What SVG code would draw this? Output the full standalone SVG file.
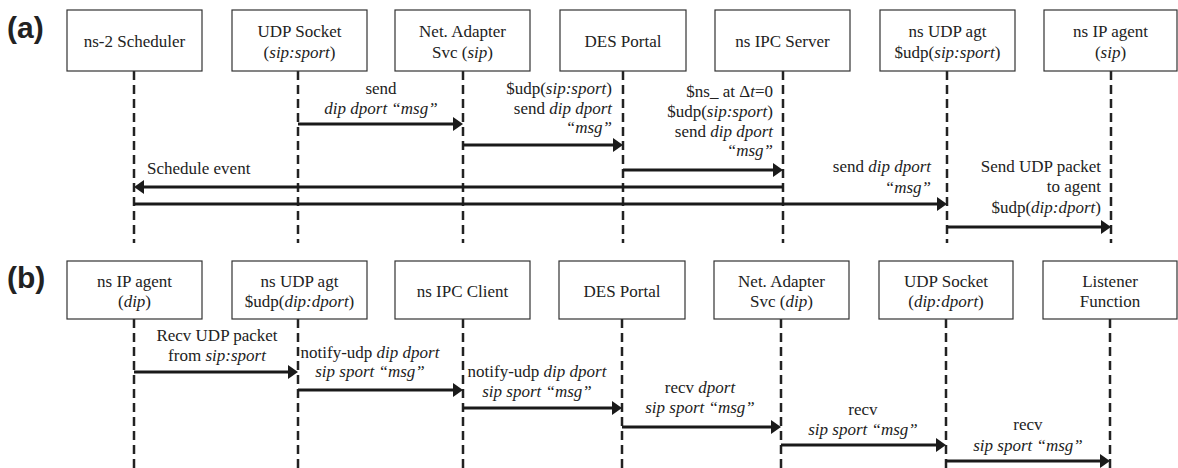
<svg xmlns="http://www.w3.org/2000/svg" width="1178" height="468" viewBox="0 0 1178 468">
  <style>
    .box { fill: #fff; stroke: #333; stroke-width: 1.2; }
    .t { font-family: 'Liberation Serif', 'DejaVu Serif', serif; font-size: 17px; fill: #222; }
    .c { text-anchor: middle; }
    .r { text-anchor: end; }
    .i { font-style: italic; }
    .panel { font-family: 'Liberation Sans', Arial, sans-serif; font-size: 30px; font-weight: bold; fill: #222; }
    .life { stroke: #222; stroke-width: 2.5; stroke-dasharray: 9 5; fill: none; }
    .msg { stroke: #1a1a1a; stroke-width: 3; fill: none; marker-end: url(#head); }
  </style>
  <defs>
    <marker id="head" markerUnits="userSpaceOnUse" markerWidth="10" markerHeight="14" refX="4" refY="7" orient="auto">
      <path d="M0,0 L10,7 L0,14 z" fill="#1a1a1a"/>
    </marker>
  </defs>
  <rect width="1178" height="468" fill="#fff"/>

  <!-- panel labels -->
  <text class="panel" x="7" y="38">(a)</text>
  <text class="panel" x="7" y="288">(b)</text>

  <!-- lifelines -->
  <g id="lifelines">
    <path class="life" d="M134,71 V243 M298,71 V243 M463,71 V243 M623,71 V243 M783,71 V243 M947,71 V243 M1111,71 V243"/>
    <path class="life" d="M134,319 V468 M298,319 V468 M463,319 V468 M622,319 V468 M781,319 V468 M946,319 V468 M1110,319 V468"/>
  </g>

  <g font-family="Liberation Serif, DejaVu Serif, serif" font-size="17">
  <!-- (a) sending side -->
  <g id="a-scheduler">
    <rect class="box" x="67" y="10" width="135" height="61"/>
    <text class="t c" x="134.5" y="47">ns-2 Scheduler</text>
  </g>
  <g id="a-udp-socket">
    <rect class="box" x="232" y="10" width="135" height="61"/>
    <text class="t c" x="299.5" y="37">UDP Socket</text>
    <text class="t c" x="299.5" y="58">(<tspan class="i">sip:sport</tspan>)</text>
  </g>
  <g id="a-net-adapter">
    <rect class="box" x="395" y="10" width="135" height="61"/>
    <text class="t c" x="462.5" y="37">Net. Adapter</text>
    <text class="t c" x="462.5" y="58">Svc (<tspan class="i">sip</tspan>)</text>
  </g>
  <g id="a-des-portal">
    <rect class="box" x="560" y="10" width="126" height="61"/>
    <text class="t c" x="623" y="47">DES Portal</text>
  </g>
  <g id="a-ipc-server">
    <rect class="box" x="715" y="10" width="135" height="61"/>
    <text class="t c" x="782.5" y="47">ns IPC Server</text>
  </g>
  <g id="a-udp-agent">
    <rect class="box" x="880" y="10" width="135" height="61"/>
    <text class="t c" x="947.5" y="37">ns UDP agt</text>
    <text class="t c" x="947.5" y="58">$udp(<tspan class="i">sip:sport</tspan>)</text>
  </g>
  <g id="a-ip-agent">
    <rect class="box" x="1044" y="10" width="133" height="61"/>
    <text class="t c" x="1110.5" y="37">ns IP agent</text>
    <text class="t c" x="1110.5" y="58">(<tspan class="i">sip</tspan>)</text>
  </g>

  <!-- (b) receiving side -->
  <g id="b-ip-agent">
    <rect class="box" x="67" y="261" width="135" height="58"/>
    <text class="t c" x="134.5" y="287">ns IP agent</text>
    <text class="t c" x="134.5" y="307">(<tspan class="i">dip</tspan>)</text>
  </g>
  <g id="b-udp-agent">
    <rect class="box" x="232" y="261" width="135" height="58"/>
    <text class="t c" x="299.5" y="287">ns UDP agt</text>
    <text class="t c" x="299.5" y="307">$udp(<tspan class="i">dip:dport</tspan>)</text>
  </g>
  <g id="b-ipc-client">
    <rect class="box" x="395" y="261" width="135" height="58"/>
    <text class="t c" x="462.5" y="297">ns IPC Client</text>
  </g>
  <g id="b-des-portal">
    <rect class="box" x="559" y="261" width="126" height="58"/>
    <text class="t c" x="622" y="297">DES Portal</text>
  </g>
  <g id="b-net-adapter">
    <rect class="box" x="714" y="261" width="135" height="58"/>
    <text class="t c" x="781.5" y="287">Net. Adapter</text>
    <text class="t c" x="781.5" y="307">Svc (<tspan class="i">dip</tspan>)</text>
  </g>
  <g id="b-udp-socket">
    <rect class="box" x="879" y="261" width="134" height="58"/>
    <text class="t c" x="946" y="287">UDP Socket</text>
    <text class="t c" x="946" y="307">(<tspan class="i">dip:dport</tspan>)</text>
  </g>
  <g id="b-listener">
    <rect class="box" x="1043" y="261" width="134" height="58"/>
    <text class="t c" x="1110" y="287">Listener</text>
    <text class="t c" x="1110" y="307">Function</text>
  </g>

  <!-- messages -->
  <g id="connectors">
    <!-- (a) -->
    <path class="msg" d="M298,124 H457"/>
    <path class="msg" d="M463,145 H617"/>
    <path class="msg" d="M623,170 H777"/>
    <path class="msg" d="M783,187 H140"/>
    <path class="msg" d="M134,204 H941"/>
    <path class="msg" d="M947,227 H1105"/>
    <!-- (b) -->
    <path class="msg" d="M134,372 H292"/>
    <path class="msg" d="M298,390 H457"/>
    <path class="msg" d="M463,408 H616"/>
    <path class="msg" d="M622,427 H775"/>
    <path class="msg" d="M781,445 H940"/>
    <path class="msg" d="M946,461 H1104"/>

    <!-- (a) labels -->
    <text class="t c" x="381" y="94">send</text>
    <text class="t c i" x="381" y="114">dip dport “msg”</text>

    <text class="t r" x="612" y="94">$udp(<tspan class="i">sip:sport</tspan>)</text>
    <text class="t r" x="612" y="114">send <tspan class="i">dip dport</tspan></text>
    <text class="t r i" x="612" y="133">“msg”</text>

    <text class="t r" x="773" y="97">$ns_  at Δ<tspan class="i">t</tspan>=0</text>
    <text class="t r" x="773" y="117">$udp(<tspan class="i">sip:sport</tspan>)</text>
    <text class="t r" x="773" y="137">send <tspan class="i">dip dport</tspan></text>
    <text class="t r i" x="773" y="156">“msg”</text>

    <text class="t" x="147" y="174">Schedule event</text>

    <text class="t r" x="931" y="172">send <tspan class="i">dip dport</tspan></text>
    <text class="t r i" x="931" y="193">“msg”</text>

    <text class="t r" x="1101" y="172">Send UDP packet</text>
    <text class="t r" x="1101" y="192">to agent</text>
    <text class="t r" x="1101" y="213">$udp(<tspan class="i">dip:dport</tspan>)</text>

    <!-- (b) labels -->
    <text class="t c" x="217" y="341">Recv UDP packet</text>
    <text class="t c" x="217" y="361">from <tspan class="i">sip:sport</tspan></text>

    <text class="t c" x="370" y="358">notify-udp <tspan class="i">dip dport</tspan></text>
    <text class="t c i" x="370" y="377">sip sport “msg”</text>

    <text class="t c" x="537" y="377">notify-udp <tspan class="i">dip dport</tspan></text>
    <text class="t c i" x="537" y="397">sip sport “msg”</text>

    <text class="t c" x="700" y="393">recv <tspan class="i">dport</tspan></text>
    <text class="t c i" x="700" y="413">sip sport “msg”</text>

    <text class="t c" x="863" y="415">recv</text>
    <text class="t c i" x="863" y="435">sip sport “msg”</text>

    <text class="t c" x="1028" y="430">recv</text>
    <text class="t c i" x="1028" y="451">sip sport “msg”</text>
  </g>
  </g>
</svg>
